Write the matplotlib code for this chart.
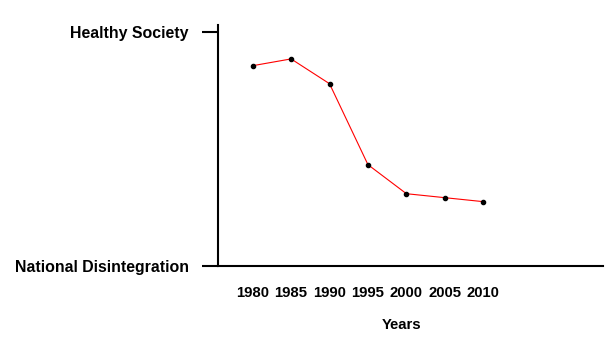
import matplotlib
matplotlib.use("Agg")
import matplotlib.pyplot as plt

# society health index by year (0 = national disintegration, 100 = healthy society)
years = [1980, 1985, 1990, 1995, 2000, 2005, 2010]
health = [85.6, 88.5, 77.9, 43.3, 30.9, 29.2, 27.5]
y_ticks = [0, 100]
y_labels = ["National Disintegration", "Healthy Society"]

plt.rcParams['font.family'] = ['Liberation Sans', 'DejaVu Sans']

fig = plt.figure(figsize=(6.07, 3.39), dpi=100)
ax = fig.add_axes([0.3591, 0.2153, 0.6343, 0.7110])

ax.plot(years, health, color='red', linewidth=0.8, zorder=2)
ax.plot(years, health, 'o', color='black', markersize=3, zorder=3)

ax.set_xlim(1975.49, 2025.57)
ax.set_ylim(0, 103.0)

ax.spines['top'].set_visible(False)
ax.spines['right'].set_visible(False)
for side in ['left', 'bottom']:
	ax.spines[side].set_linewidth(1.5)

ax.set_yticks(y_ticks)
ax.set_yticklabels(y_labels, fontsize=11.4, fontweight='bold')
ax.tick_params(axis='y', length=11.5, width=1.5, pad=9.5)

ax.set_xticks(years)
ax.set_xticklabels([str(y) for y in years], fontsize=10.7, fontweight='bold')
ax.tick_params(axis='x', length=0, pad=14.5)

ax.set_xlabel('Years', fontsize=10.7, fontweight='bold', va='center')
ax.xaxis.set_label_coords((402 - 218) / 385, -(325 - 266) / 241)

fig.savefig('out.png', dpi=100)
